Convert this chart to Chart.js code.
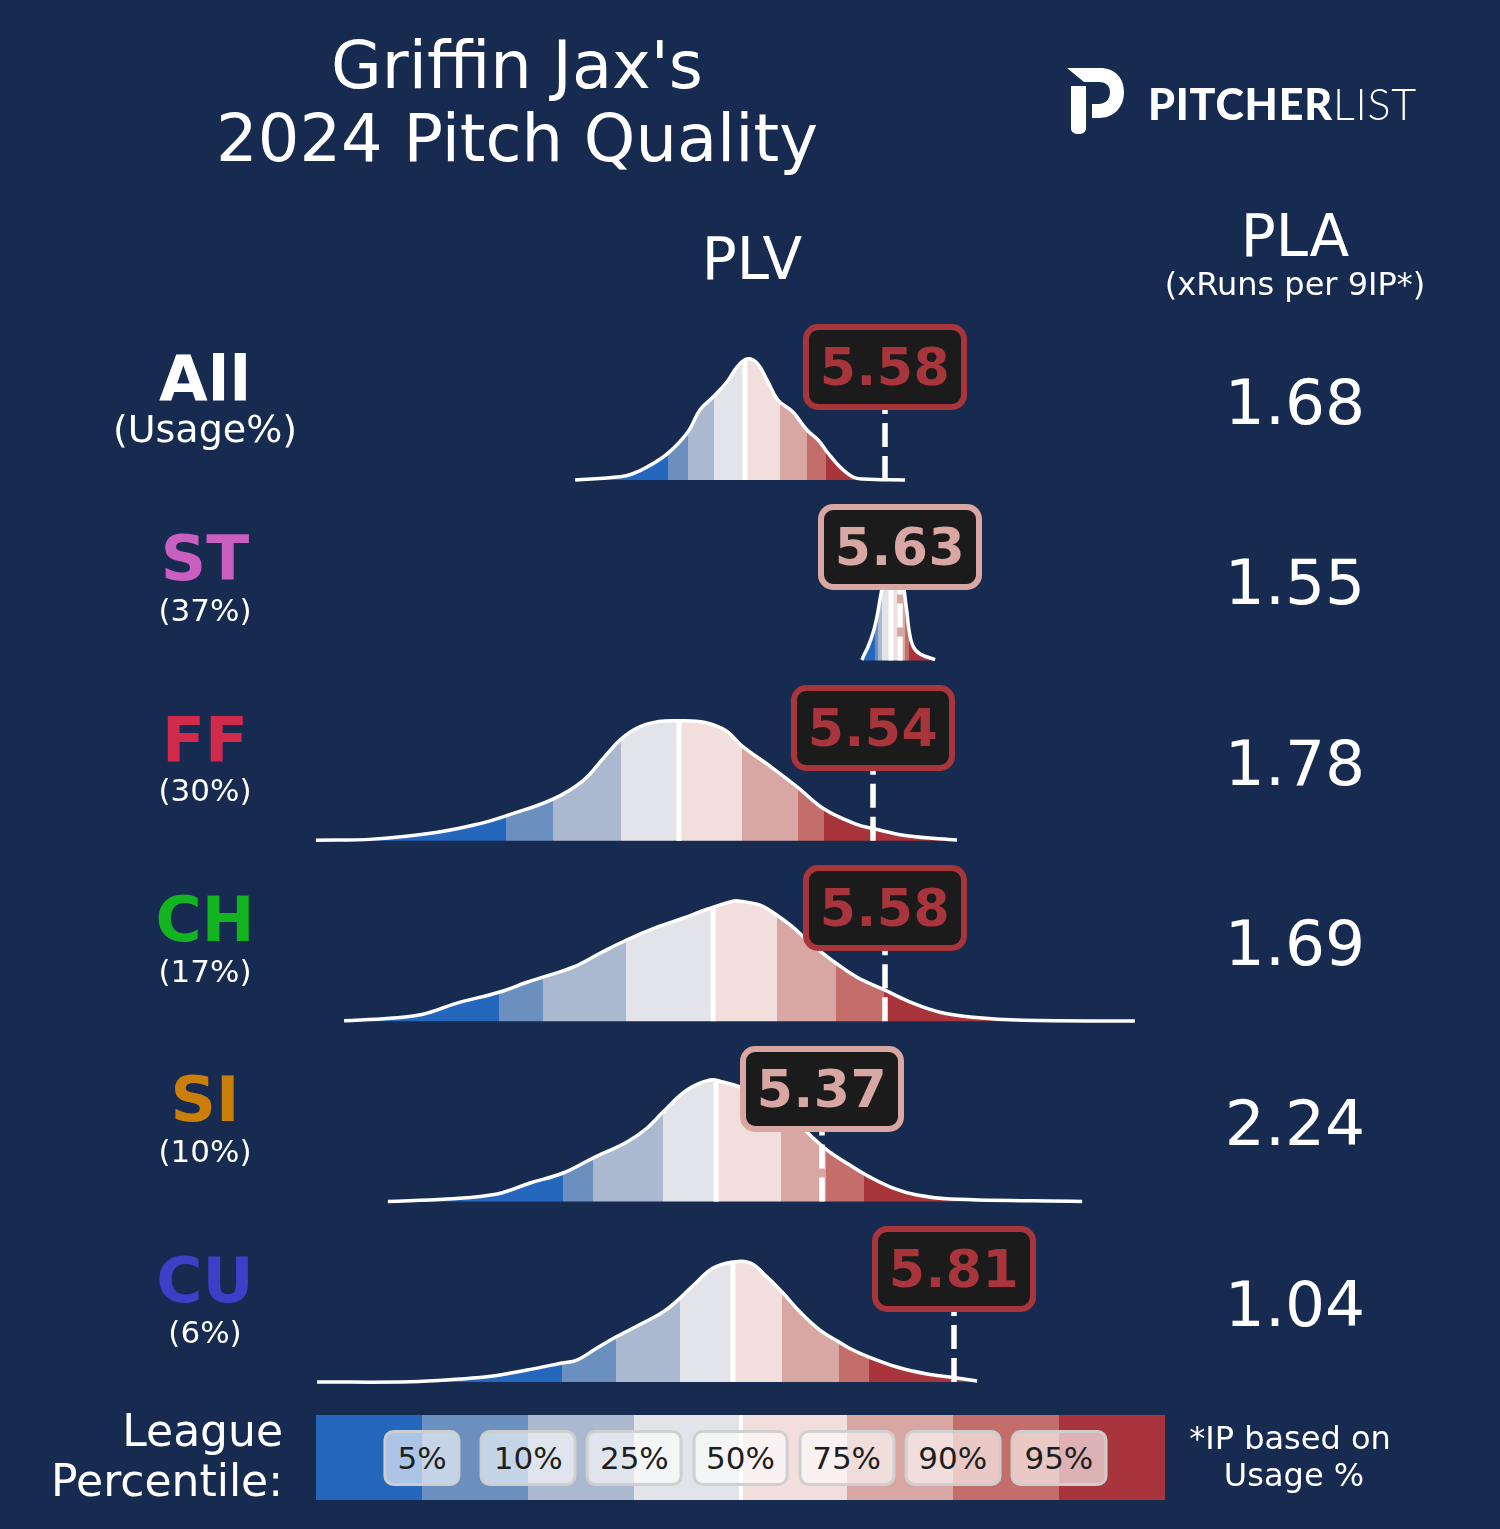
<!DOCTYPE html>
<html><head><meta charset="utf-8">
<script src="https://cdn.jsdelivr.net/npm/chart.js@4.4.1/dist/chart.umd.min.js"></script>
<style>
html,body{margin:0;padding:0;background:#172a4f;width:1500px;height:1529px;overflow:hidden;font-family:"DejaVu Sans",sans-serif;color:#fff}
#wrap{position:absolute;left:0;top:0;width:1500px;height:1529px}
.t{position:absolute;white-space:nowrap;transform:translate(-50%,-50%);line-height:1}
.box{position:absolute;box-sizing:border-box;width:164px;height:86px;transform:translate(-50%,-50%);background:#1b1b1b;border:6px solid;border-radius:15px;font-weight:bold;font-size:52px;display:flex;align-items:center;justify-content:center;letter-spacing:0.5px}
#legend{position:absolute;left:316px;top:1415px;width:849px;height:85px;display:flex}
#legend .blk{flex:1;height:100%}
.pl{position:absolute;top:50%;transform:translate(-50%,-50%);box-sizing:border-box;height:56px;padding:0 11px;display:flex;align-items:center;background:rgba(255,255,255,0.62);border:3px solid rgba(205,205,205,0.95);border-radius:10px;color:#1e1e1e;font-size:31px}
</style></head><body>
<div id="wrap"><canvas id="c"></canvas></div>
<div id="overlay"></div>
<script>
// ---------- categories / values ----------
const pitchTypes   = ['All','ST','FF','CH','SI','CU'];
const usageLabels  = ['(Usage%)','(37%)','(30%)','(17%)','(10%)','(6%)'];
const typeColors   = ['#ffffff','#c95fbf','#d22a4b','#12b41f','#cb7f0b','#3b40c6'];
const plvValues    = [5.58, 5.63, 5.54, 5.58, 5.37, 5.81];
const plaValues    = ['1.68','1.55','1.78','1.69','2.24','1.04'];
const percentileLabels = ['5%','10%','25%','50%','75%','90%','95%'];
const bandColors   = ['#2567bd','#6b8fbf','#aab8d0','#e3e4ea','#f2dedc','#d9a7a3','#c46e6b','#a7353b'];

// league percentile cut points (PLV) per pitch type: 5,10,25,50,75,90,95
const pctAll = [4.857,4.923,5.01,5.113,5.23,5.32,5.383];
const pctST  = [5.547,5.557,5.57,5.6,5.62,5.647,5.66];
const pctFF  = [4.317,4.473,4.7,4.893,5.103,5.29,5.377];
const pctCH  = [4.293,4.44,4.717,5.007,5.22,5.417,5.577];
const pctSI  = [4.507,4.607,4.84,5.017,5.233,5.383,5.51];
const pctCU  = [4.503,4.683,4.897,5.073,5.237,5.427,5.527];

// density curves (PLV grid, relative density)
const plvAll = [4.547,4.697,4.737,4.787,4.857,4.923,4.963,5.007,5.053,5.087,5.12,5.153,5.187,5.223,5.273,5.32,5.357,5.387,5.43,5.473,5.507,5.647];
const denAll = [0,0.027,0.05,0.108,0.224,0.399,0.582,0.69,0.815,0.94,1.006,0.973,0.831,0.665,0.565,0.416,0.333,0.233,0.108,0.025,0.008,0];
const plvST  = [5.503,5.51,5.523,5.54,5.553,5.563,5.573,5.583,5.597,5.607,5.617,5.63,5.64,5.647,5.653,5.66,5.673,5.697,5.747];
const denST  = [0.003,0.045,0.111,0.228,0.361,0.502,0.644,0.818,0.96,1.001,0.968,0.835,0.668,0.519,0.402,0.253,0.12,0.053,0.007];
const plvFF  = [3.683,3.873,4.083,4.223,4.317,4.473,4.573,4.643,4.7,4.757,4.827,4.893,4.98,5.05,5.103,5.203,5.29,5.377,5.483,5.54,5.653,5.82];
const denFF  = [0.005,0.014,0.069,0.139,0.208,0.347,0.499,0.692,0.846,0.942,0.992,0.998,0.984,0.915,0.79,0.609,0.443,0.264,0.139,0.102,0.042,0.006];
const plvCH  = [3.777,3.93,4.04,4.153,4.293,4.387,4.44,4.54,4.63,4.717,4.82,4.907,4.987,5.073,5.097,5.163,5.22,5.273,5.32,5.373,5.417,5.487,5.58,5.673,5.763,5.873,6.04,6.413];
const denCH  = [0.004,0.025,0.058,0.15,0.241,0.324,0.366,0.449,0.565,0.673,0.782,0.856,0.931,0.998,0.998,0.965,0.881,0.782,0.673,0.565,0.482,0.366,0.258,0.15,0.075,0.033,0.008,0.002];
const plvSI  = [3.923,4.12,4.287,4.397,4.507,4.607,4.72,4.787,4.84,4.92,4.997,5.04,5.097,5.153,5.233,5.297,5.33,5.387,5.463,5.53,5.607,5.687,5.797,6.237];
const denSI  = [0.001,0.022,0.063,0.155,0.238,0.363,0.496,0.612,0.745,0.928,1.011,0.994,0.953,0.886,0.762,0.637,0.554,0.429,0.304,0.204,0.113,0.055,0.022,0.001];
const plvCU  = [3.687,3.997,4.163,4.273,4.387,4.503,4.553,4.62,4.683,4.773,4.84,4.897,4.953,5.007,5.073,5.13,5.187,5.237,5.297,5.363,5.427,5.473,5.527,5.62,5.72,5.82,5.887];
const denCU  = [0,0.002,0.025,0.05,0.1,0.158,0.183,0.283,0.374,0.491,0.582,0.698,0.832,0.948,0.998,0.99,0.873,0.748,0.582,0.432,0.333,0.266,0.208,0.125,0.067,0.033,0.008];

// density height at each league median
const medianDensity = [0.99, 0.98, 0.998, 0.95, 1.0, 0.998];

// ---------- layout constants ----------
const ROW_GAP = 1.5, LABEL_RISE = 0.94;
const grids = [plvAll, plvST, plvFF, plvCH, plvSI, plvCU];
const dens  = [denAll, denST, denFF, denCH, denSI, denCU];
const pcts  = [pctAll, pctST, pctFF, pctCH, pctSI, pctCU];
const rowBase = i => (pitchTypes.length - 1 - i) * ROW_GAP;

function bandFill(cuts){
  return (c) => {
    const chart = c.chart, area = chart.chartArea, xs = chart.scales.x;
    if (!area || !xs) return bandColors[3];
    const w = area.right - area.left;
    const g = chart.ctx.createLinearGradient(area.left, 0, area.right, 0);
    g.addColorStop(0, bandColors[0]);
    cuts.forEach((v, k) => {
      const f = Math.min(1, Math.max(0, (xs.getPixelForValue(v) - area.left) / w));
      g.addColorStop(f, bandColors[k]);
      g.addColorStop(f, bandColors[k + 1]);
    });
    g.addColorStop(1, bandColors[7]);
    return g;
  };
}

const datasets = [];
pitchTypes.forEach((p, i) => {
  const b = rowBase(i);
  datasets.push({
    label: p + ' density',
    data: grids[i].map((x, k) => ({x, y: b + dens[i][k]})),
    borderColor: '#ffffff', borderWidth: 3.5,
    backgroundColor: bandFill(pcts[i]),
    fill: {value: b},
    tension: 0.4,
    pointRadius: 0, order: 3
  });
  datasets.push({
    label: p + ' median',
    data: [{x: pcts[i][3], y: b}, {x: pcts[i][3], y: b + medianDensity[i]}],
    borderColor: '#ffffff', borderWidth: 5, pointRadius: 0, fill: false, order: 2
  });
  datasets.push({
    label: p + ' PLV',
    data: [{x: plvValues[i], y: b}, {x: plvValues[i], y: b + LABEL_RISE}],
    borderColor: '#ffffff', borderWidth: 5.5, borderDash: [24, 9], pointRadius: 0, fill: false, order: 1
  });
});

const chart = new Chart(document.getElementById('c'), {
  type: 'line',
  data: {datasets},
  options: {
    responsive: true, maintainAspectRatio: false, animation: false,
    layout: {padding: 0},
    plugins: {legend: {display: false}, tooltip: {enabled: false}},
    scales: {
      x: {type: 'linear', min: 2.63, max: 7.63, display: false},
      y: {type: 'linear', min: -1.222, max: 11.491, display: false}
    }
  }
});

// ---------- text overlay ----------
const ov = document.getElementById('overlay');
function txt(s, x, y, css){ const d = document.createElement('div'); d.className = 't'; d.textContent = s; d.style.left = x + 'px'; d.style.top = y + 'px'; Object.assign(d.style, css || {}); ov.appendChild(d); return d; }

txt("Griffin Jax's", 517, 66, {fontSize: '65.5px'});
txt('2024 Pitch Quality', 517, 139, {fontSize: '65.5px'});
txt('PLV', 752, 259, {fontSize: '58px'});
txt('PLA', 1295, 236, {fontSize: '58px'});
txt('(xRuns per 9IP*)', 1295, 284, {fontSize: '32px'});

const xs = chart.scales.x, ys = chart.scales.y;
pitchTypes.forEach((p, i) => {
  const b = rowBase(i);
  txt(p, 205, ys.getPixelForValue(b + 0.85), {fontSize: '63px', fontWeight: 'bold', color: typeColors[i]});
  txt(usageLabels[i], 205, ys.getPixelForValue(b + 0.42), {fontSize: i === 0 ? '38px' : '31px'});
  txt(plaValues[i], 1295, ys.getPixelForValue(b + 0.65), {fontSize: '63px'});
  const cuts = pcts[i];
  const idx = cuts.filter(c => plvValues[i] > c).length;
  const col = bandColors[idx];
  const bx = document.createElement('div');
  bx.className = 'box';
  bx.textContent = plvValues[i].toFixed(2);
  bx.style.left = xs.getPixelForValue(plvValues[i]) + 'px';
  bx.style.top = ys.getPixelForValue(b + LABEL_RISE) + 'px';
  bx.style.borderColor = col; bx.style.color = col;
  ov.appendChild(bx);
});

// legend
const lg = document.createElement('div'); lg.id = 'legend';
bandColors.forEach(c => { const d = document.createElement('div'); d.className = 'blk'; d.style.background = c; lg.appendChild(d); });
const ml = document.createElement('div');
Object.assign(ml.style, {position: 'absolute', left: 'calc(50% - 2px)', top: 0, width: '4px', height: '100%', background: '#fff'});
lg.appendChild(ml);
percentileLabels.forEach((s, k) => {
  const d = document.createElement('div'); d.className = 'pl'; d.textContent = s;
  d.style.left = ((k + 1) / bandColors.length * 100) + '%';
  lg.appendChild(d);
});
ov.appendChild(lg);
txt('League', 283, 1431, {fontSize: '44px', transform: 'translate(-100%,-50%)'});
txt('Percentile:', 283, 1481, {fontSize: '44px', transform: 'translate(-100%,-50%)'});
txt('*IP based on', 1290, 1438, {fontSize: '32px'});
txt('Usage %', 1294, 1475, {fontSize: '32px'});

// logo
const lt = document.createElement('div');
Object.assign(lt.style, {position: 'absolute', left: '1148px', top: '103px', transform: 'translateY(-50%)', fontFamily: 'Lato, sans-serif', fontSize: '43px', lineHeight: '1', letterSpacing: '0.8px', whiteSpace: 'nowrap'});
lt.innerHTML = '<span style="font-weight:900">PITCHER</span><span style="font-weight:300">LIST</span>';
ov.appendChild(lt);
const svgNS = 'http://www.w3.org/2000/svg';
const svg = document.createElementNS(svgNS, 'svg');
svg.setAttribute('width', '1500'); svg.setAttribute('height', '160');
Object.assign(svg.style, {position: 'absolute', left: 0, top: 0});
svg.innerHTML = '<path fill="#fff" d="M1067,68 L1100,68 C1115,68 1124,78 1124,92 C1124,107 1114,118 1099,118 L1092,118 L1092,104 L1098,104 C1106,104 1110,99 1110,92 C1110,85 1105,82 1099,82 L1084,82 Z"/>' +
  '<path fill="#fff" d="M1071,86 L1086,86 L1086,128 C1086,132 1083,134 1078.5,134 C1074,134 1071,132 1071,128 Z"/>';
ov.appendChild(svg);
</script>
</body></html>
